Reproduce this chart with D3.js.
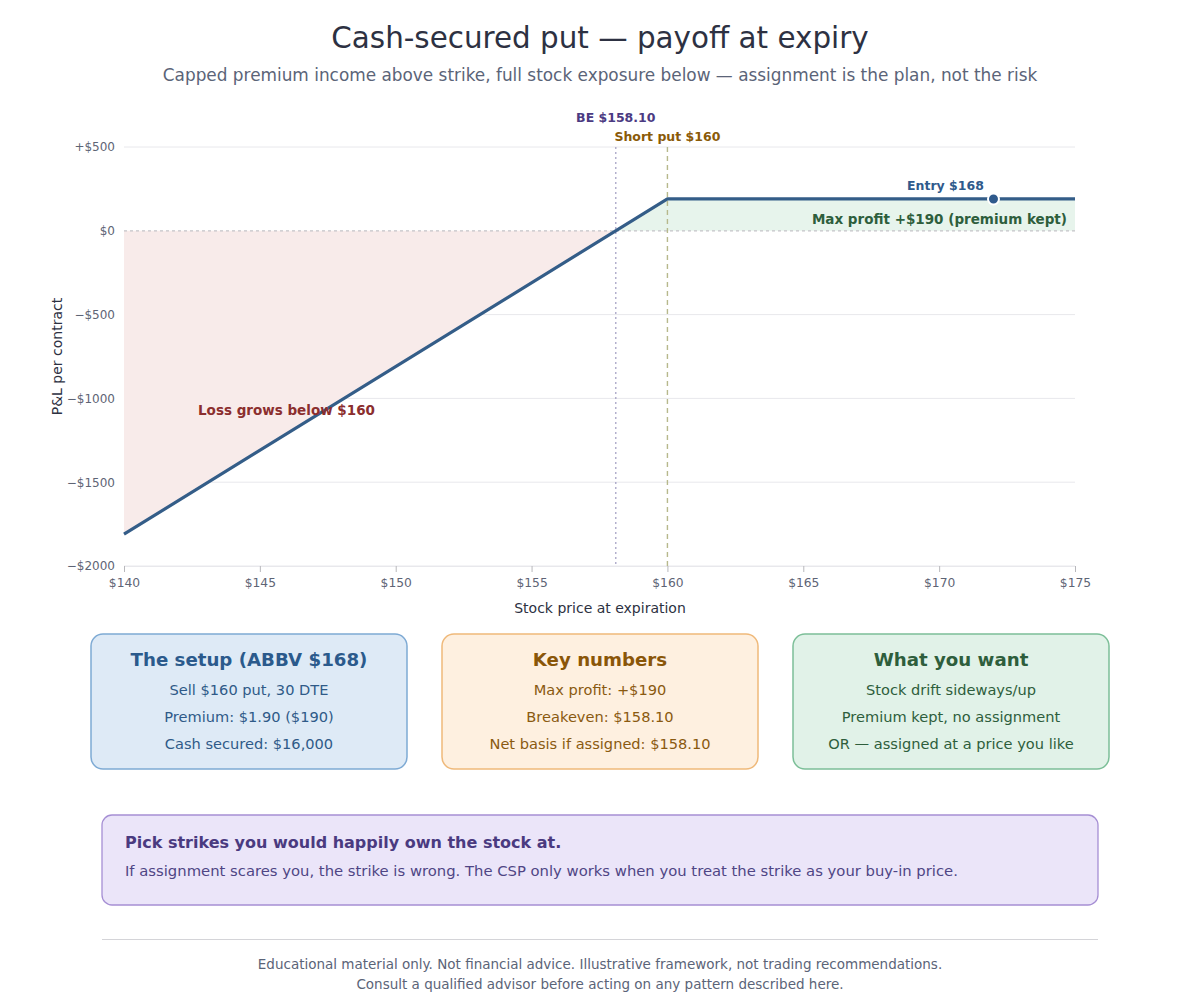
<!DOCTYPE html>
<html><head><meta charset="utf-8">
<script src="https://cdn.jsdelivr.net/npm/d3@7/dist/d3.min.js"></script>
<style>
html,body{margin:0;padding:0;background:#fff;}
svg{display:block;font-family:"DejaVu Sans",sans-serif;}
</style></head>
<body>
<svg id="chart" width="1200" height="996"></svg>
<script>
// ---- data ----
const payoffPrices = [140, 160, 175];
const payoffValues = [-1810, 190, 190];
const strike = 160;
const breakeven = 158.10;
const entryPrice = 168;
const entryMarker = 172;
const premiumPnl = 190;
const xTicks = [140, 145, 150, 155, 160, 165, 170, 175];
const yTicks = [-2000, -1500, -1000, -500, 0, 500];
const yTickLabels = ["\u2212$2000", "\u2212$1500", "\u2212$1000", "\u2212$500", "$0", "+$500"];
const cardTitles = ["The setup (ABBV $168)", "Key numbers", "What you want"];
const cardLines = [
  ["Sell $160 put, 30 DTE", "Premium: $1.90 ($190)", "Cash secured: $16,000"],
  ["Max profit: +$190", "Breakeven: $158.10", "Net basis if assigned: $158.10"],
  ["Stock drift sideways/up", "Premium kept, no assignment", "OR \u2014 assigned at a price you like"]
];
const cardColors = [
  {fill:"#deeaf6", stroke:"#7eaad4", title:"#2b5a8c", text:"#2f5a88"},
  {fill:"#fef0e0", stroke:"#efb97a", title:"#8a5608", text:"#8a5a10"},
  {fill:"#e1f2e8", stroke:"#7cbf98", title:"#2e5e3c", text:"#2e5e3c"}
];

const svg = d3.select("#chart");
const x = d3.scaleLinear().domain([140, 175]).range([124, 1075]);
const y = d3.scaleLinear().domain([-2000, 500]).range([566, 147]);

// title
svg.append("text").attr("x", 600).attr("y", 48).attr("text-anchor", "middle")
  .attr("font-size", 29.4).attr("fill", "#2d3142").text("Cash-secured put \u2014 payoff at expiry");
svg.append("text").attr("x", 600).attr("y", 81).attr("text-anchor", "middle")
  .attr("font-size", 16.9).attr("fill", "#5b6478")
  .text("Capped premium income above strike, full stock exposure below \u2014 assignment is the plan, not the risk");

// gridlines
svg.append("g").selectAll("line").data(yTicks.filter(d => d !== 0)).join("line")
  .attr("x1", x(140)).attr("x2", x(175)).attr("y1", d => y(d)).attr("y2", d => y(d))
  .attr("stroke", "#e8e8ec").attr("stroke-width", 1);

// fills
const pts = payoffPrices.map((p, i) => ({p, v: payoffValues[i]}));
const lossPts = [{p:140, v:payoffValues[0]}, {p:breakeven, v:0}];
svg.append("path").datum(lossPts)
  .attr("d", d3.area().x(d => x(d.p)).y0(y(0)).y1(d => y(d.v)))
  .attr("fill", "#f8ebea");
const gainPts = [{p:breakeven, v:0}].concat(pts.filter(d => d.p >= strike));
svg.append("path").datum(gainPts)
  .attr("d", d3.area().x(d => x(d.p)).y0(y(0)).y1(d => y(d.v)))
  .attr("fill", "#e7f4ec");

// zero line
svg.append("line").attr("x1", x(140)).attr("x2", x(175)).attr("y1", y(0)).attr("y2", y(0))
  .attr("stroke", "#c4c4c8").attr("stroke-width", 1.2).attr("stroke-dasharray", "3,3");

// vertical reference lines
svg.append("line").attr("x1", x(breakeven)).attr("x2", x(breakeven)).attr("y1", y(500)).attr("y2", y(-2000))
  .attr("stroke", "#a09cc0").attr("stroke-width", 1.2).attr("stroke-dasharray", "2,3");
svg.append("line").attr("x1", x(strike)).attr("x2", x(strike)).attr("y1", y(500)).attr("y2", y(-2000))
  .attr("stroke", "#b7b88c").attr("stroke-width", 1.4).attr("stroke-dasharray", "5,4");

// axes
const yAxis = svg.append("g").attr("transform", `translate(${x(140)},0)`)
  .call(d3.axisLeft(y).tickValues(yTicks).tickFormat((d, i) => yTickLabels[i]).tickSize(0).tickPadding(9));
yAxis.select(".domain").remove();
yAxis.selectAll("text").attr("font-family", "DejaVu Sans").attr("font-size", 12).attr("fill", "#5e6475");

const xAxis = svg.append("g").attr("transform", `translate(0,${y(-2000)})`)
  .call(d3.axisBottom(x).tickValues(xTicks).tickFormat(d => "$" + d).tickSize(6).tickPadding(6));
xAxis.select(".domain").attr("stroke", "#e8e8ec");
xAxis.selectAll(".tick line").attr("stroke", "#b8b8bc");
xAxis.selectAll("text").attr("font-family", "DejaVu Sans").attr("font-size", 12.3).attr("fill", "#5e6475");

svg.append("text").attr("x", 600).attr("y", 613).attr("text-anchor", "middle")
  .attr("font-size", 14).attr("fill", "#2d3142").text("Stock price at expiration");
svg.append("text").attr("transform", `translate(62,${(y(500)+y(-2000))/2}) rotate(-90)`)
  .attr("text-anchor", "middle").attr("font-size", 14).attr("fill", "#2d3142").text("P&L per contract");

// payoff line
svg.append("path").datum(pts)
  .attr("d", d3.line().x(d => x(d.p)).y(d => y(d.v)))
  .attr("fill", "none").attr("stroke", "#345d88").attr("stroke-width", 3.2).attr("stroke-linejoin", "round");

// entry marker
svg.append("circle").attr("cx", x(entryMarker)).attr("cy", y(premiumPnl)).attr("r", 5.5)
  .attr("fill", "#2f5a8c").attr("stroke", "#fff").attr("stroke-width", 2);
svg.append("text").attr("x", x(entryMarker) - 48).attr("y", y(premiumPnl) - 9).attr("text-anchor", "middle")
  .attr("font-size", 12.5).attr("font-weight", "bold").attr("fill", "#2f5a8c").text("Entry $" + entryPrice);

// annotations
svg.append("text").attr("x", x(breakeven)).attr("y", 122).attr("text-anchor", "middle")
  .attr("font-size", 12.5).attr("font-weight", "bold").attr("fill", "#4b3a82").text("BE $158.10");
svg.append("text").attr("x", x(strike)).attr("y", 141).attr("text-anchor", "middle")
  .attr("font-size", 12.5).attr("font-weight", "bold").attr("fill", "#8a5a08").text("Short put $160");
svg.append("text").attr("x", x(175) - 8).attr("y", 224).attr("text-anchor", "end")
  .attr("font-size", 13.5).attr("font-weight", "bold").attr("fill", "#2e5e3c").text("Max profit +$190 (premium kept)");
svg.append("text").attr("x", 198).attr("y", 415)
  .attr("font-size", 13.5).attr("font-weight", "bold").attr("fill", "#8b2e2e").text("Loss grows below $160");

// cards
const cardX = [91, 442, 793];
const cg = svg.append("g").selectAll("g").data(cardTitles).join("g")
  .attr("transform", (d, i) => `translate(${cardX[i]},634)`);
cg.append("rect").attr("width", 316).attr("height", 135).attr("rx", 12)
  .attr("fill", (d, i) => cardColors[i].fill).attr("stroke", (d, i) => cardColors[i].stroke).attr("stroke-width", 1.5);
cg.append("text").attr("x", 158).attr("y", 32).attr("text-anchor", "middle")
  .attr("font-size", 18.2).attr("font-weight", "bold").attr("fill", (d, i) => cardColors[i].title).text(d => d);
cg.each(function(d, i) {
  d3.select(this).selectAll("text.line").data(cardLines[i]).join("text").attr("class", "line")
    .attr("x", 158).attr("y", (t, j) => 61 + j * 27).attr("text-anchor", "middle")
    .attr("font-size", 14.6).attr("fill", cardColors[i].text).text(t => t);
});

// callout
svg.append("rect").attr("x", 102).attr("y", 815).attr("width", 996).attr("height", 90).attr("rx", 10)
  .attr("fill", "#ebe5f9").attr("stroke", "#a68fd4").attr("stroke-width", 1.3);
svg.append("text").attr("x", 125).attr("y", 848).attr("font-size", 16).attr("font-weight", "bold")
  .attr("fill", "#4a3a80").text("Pick strikes you would happily own the stock at.");
svg.append("text").attr("x", 125).attr("y", 876).attr("font-size", 14.8)
  .attr("fill", "#4f4585").text("If assignment scares you, the strike is wrong. The CSP only works when you treat the strike as your buy-in price.");

// footer
svg.append("line").attr("x1", 102).attr("x2", 1098).attr("y1", 939.5).attr("y2", 939.5)
  .attr("stroke", "#d4d4d8").attr("stroke-width", 1);
svg.append("text").attr("x", 600).attr("y", 969).attr("text-anchor", "middle").attr("font-size", 13.5)
  .attr("fill", "#5b6478").text("Educational material only. Not financial advice. Illustrative framework, not trading recommendations.");
svg.append("text").attr("x", 600).attr("y", 989).attr("text-anchor", "middle").attr("font-size", 13.5)
  .attr("fill", "#5b6478").text("Consult a qualified advisor before acting on any pattern described here.");
</script>
</body></html>
